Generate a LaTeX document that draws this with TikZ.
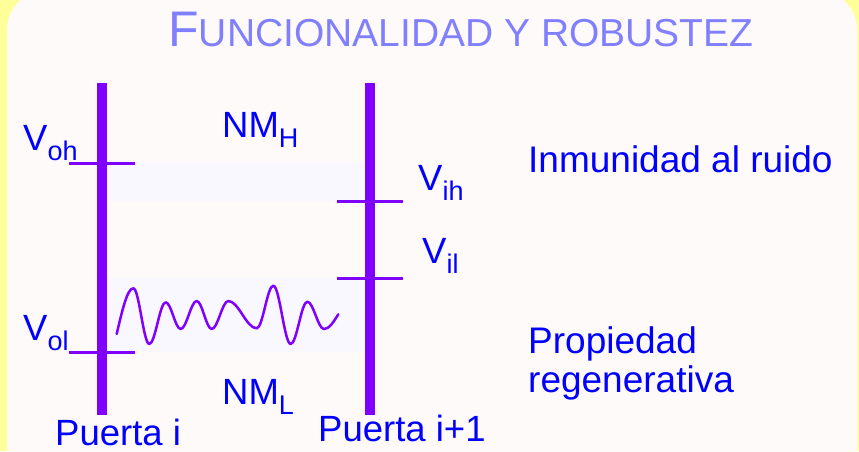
\documentclass[tikz,border=0pt]{standalone}
\usepackage{fontspec}
\setmainfont{Liberation Sans}
\usepackage{xcolor}
\definecolor{bgyellow}{RGB}{255,255,153}
\definecolor{panelwhite}{RGB}{255,250,250}
\definecolor{bandlav}{RGB}{249,247,255}
\definecolor{titleblue}{RGB}{128,128,255}
\definecolor{txtblue}{RGB}{0,0,255}
\definecolor{barviolet}{RGB}{128,0,255}
\usetikzlibrary{calc}
\newcommand{\lvsub}[2]{#1\raisebox{-10pt}{\fontsize{27}{27}\selectfont #2}}
\tikzset{
	lbl/.style    = {inner sep=0pt,anchor=base west,text=txtblue,
		font=\fontsize{36.5}{40}\selectfont},
	note/.style   = {lbl,font=\fontsize{37}{40}\selectfont},
	ttl/.style    = {inner sep=0pt,anchor=base,text=titleblue},
	gate/.style   = {line width=10pt,barviolet},
	lvltick/.style= {line width=3pt,barviolet},
	band/.style   = {fill=bandlav},
	noise/.style  = {line width=2.5pt,barviolet,line join=round,line cap=round},
}

\begin{document}
\begin{tikzpicture}[x=1pt,y=-1pt]
	\useasboundingbox (0,0) rectangle (859,451);
	\clip (0,0) rectangle (859,451);
	%% Fondo
	\fill[bgyellow] (0,0) rectangle (859,451);
	\fill[panelwhite,rounded corners=40pt] (7,-10) rectangle (857,500);
	
	%% Titulo
	\node (title) [ttl] at (461,46)
	{\fontsize{50}{50}\selectfont F\fontsize{39}{40}\selectfont UNCIONALIDAD Y ROBUSTEZ};
	
	%% Margenes de ruido
	\fill[band] (107,163) rectangle (364,201);
	\fill[band] (107,278) rectangle (364,352);
	
	%% Puertas
	\coordinate (gi top)  at (102,83);
	\coordinate (gi bot)  at (102,415);
	\coordinate (gj top)  at (370,83);
	\coordinate (gj bot)  at (370,415);
	\draw[gate] (gi top)--(gi bot);
	\draw[gate] (gj top)--(gj bot);
	
	%% Niveles
	\draw[lvltick] (69,163)--(135,163);
	\draw[lvltick] (69,352)--(135,352);
	\draw[lvltick] (337,201)--(403,201);
	\draw[lvltick] (337,278)--(403,278);
	
	%% Ruido
	\draw[noise] (116.7,334) sin (133.3,288.3) cos (141.3,316.2) sin (149.3,344)
	cos (157.5,323.2) sin (165.7,302.3) cos (173.2,315.7) sin (180.7,329)
	cos (188.7,315) sin (196.7,301) cos (204.2,315) sin (211.7,329)
	cos (220,315) sin (228.3,301) cos (242.5,314.7) sin (256.7,328.3)
	cos (265,307) sin (273.3,285.7) cos (282,314.9) sin (290.7,344)
	cos (299,322.9) sin (307.3,301.7) cos (315.7,315.4) sin (324,329)
	cos (338.3,314.3);
	
	%% Etiquetas
	\node (voh) [lbl] at (23,150) {\lvsub{V}{oh}};
	\node (vol) [lbl] at (23,340) {\lvsub{V}{ol}};
	\node (vih) [lbl] at (418,190) {\lvsub{V}{ih}};
	\node (vil) [lbl] at (422,263) {\lvsub{V}{il}};
	\node (nmh) [lbl] at (222,137) {\lvsub{NM}{H}};
	\node (nml) [lbl] at (222,404) {\lvsub{NM}{L}};
	\node (pi)  [lbl] at (55,445)  {Puerta i};
	\node (pj)  [lbl] at (318,441) {Puerta i+1};
	\node (inm) [note] at (528,172) {Inmunidad al ruido};
	\node (prop)[note] at (528,353) {Propiedad};
	\node (regen)[note] at (528,392) {regenerativa};
\end{tikzpicture}
\end{document}
